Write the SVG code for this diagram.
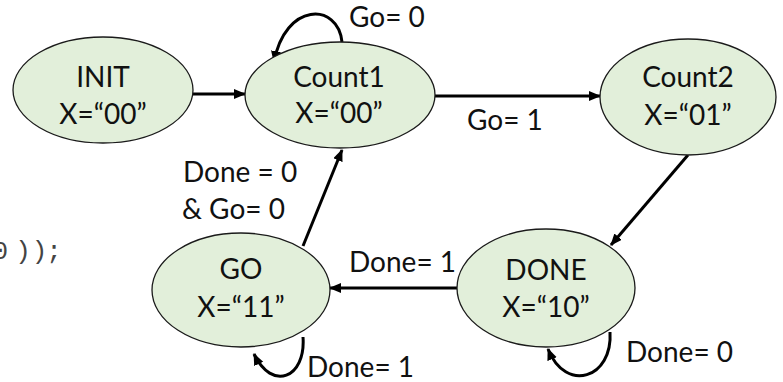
<svg xmlns="http://www.w3.org/2000/svg" width="783" height="382" viewBox="0 0 783 382">
<style>
.st{fill:#e2efda;stroke:#1a1a1a;stroke-width:1.3}
.t{font-family:Lato,"Liberation Sans",sans-serif;font-size:28px;fill:#111;text-anchor:middle}
.l{font-family:Lato,"Liberation Sans",sans-serif;font-size:28px;fill:#111}
.c{fill:none;stroke:#000;stroke-width:3;marker-end:url(#ah)}
.code{font-family:"Liberation Mono",monospace;font-size:26px;fill:#444}
</style>
<defs>
<marker id="ah" markerUnits="userSpaceOnUse" markerWidth="12" markerHeight="11" refX="11" refY="5" orient="auto">
<path d="M0,0 L12,5 L0,10 z" fill="#000"/>
</marker>
</defs>
<rect width="783" height="382" fill="#fff"/>
<text class="code" x="-7.5 15.2 31.7 46.2" y="259">0));</text>
<g id="connectors">
<line class="c" x1="193" y1="94" x2="245" y2="94"/>
<line class="c" x1="435" y1="96" x2="600" y2="96"/>
<path class="c" d="M342,42 C338,2 285,2 274,62"/>
<line class="c" x1="688" y1="155" x2="611" y2="245"/>
<line class="c" x1="457" y1="288" x2="330" y2="288"/>
<line class="c" x1="303" y1="246" x2="342" y2="150"/>
<path class="c" d="M303,337 C306,378 272,392 254,354"/>
<path class="c" d="M610,332 C613,378 566,394 548,349"/>
</g>
<g id="INIT">
<ellipse class="st" cx="103" cy="90" rx="90" ry="53"/>
<text class="t" x="103" y="87">INIT</text>
<text class="t" x="103" y="124">X=“00”</text>
</g>
<g id="Count1">
<ellipse class="st" cx="340" cy="95" rx="95" ry="53"/>
<text class="t" x="339" y="87">Count1</text>
<text class="t" x="339" y="123">X=“00”</text>
</g>
<g id="Count2">
<ellipse class="st" cx="688" cy="97" rx="88" ry="58"/>
<text class="t" x="688" y="87">Count2</text>
<text class="t" x="688" y="125">X=“01”</text>
</g>
<g id="GO">
<ellipse class="st" cx="241" cy="290" rx="89" ry="57"/>
<text class="t" x="241" y="279">GO</text>
<text class="t" x="241" y="317">X=“11”</text>
</g>
<g id="DONE">
<ellipse class="st" cx="546" cy="288" rx="89" ry="59"/>
<text class="t" x="546" y="280">DONE</text>
<text class="t" x="546" y="317">X=“10”</text>
</g>
<g id="labels">
<text class="l" x="349" y="27">Go= 0</text>
<text class="l" x="467" y="130">Go= 1</text>
<text class="l" x="183" y="182">Done = 0</text>
<text class="l" x="182" y="219">&amp; Go= 0</text>
<text class="l" x="349" y="272">Done= 1</text>
<text class="l" x="307" y="377">Done= 1</text>
<text class="l" x="626" y="362">Done= 0</text>
</g>
</svg>
